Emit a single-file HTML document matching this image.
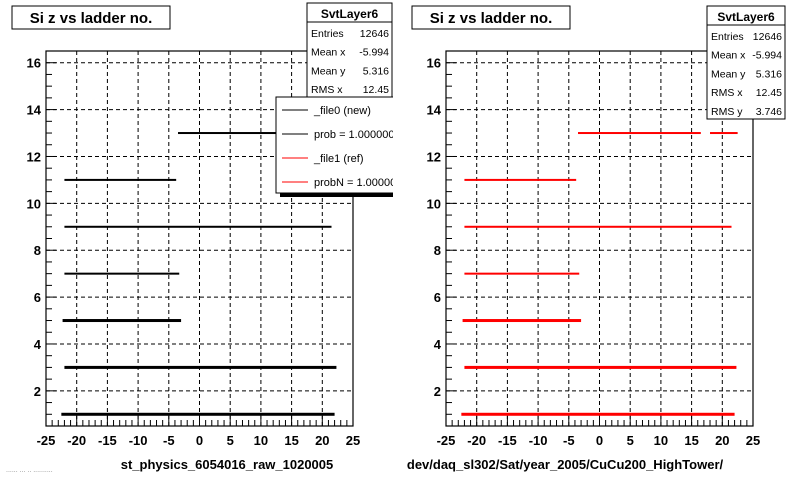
<!DOCTYPE html>
<html><head><meta charset="utf-8"><style>
body{margin:0;background:#fff}
svg{display:block;font-family:"Liberation Sans",Arial,sans-serif}
</style></head><body>
<svg id="c" width="800" height="480" viewBox="0 0 800 480">
<defs><clipPath id="padclip"><rect x="0" y="0" width="393" height="480"/></clipPath></defs>
</svg>
<script>
const bandY=[1,3,5,7,9,11,13,13];
const bandStart=[-22.5,-22,-22.3,-22,-22,-22,-3.5,18];
const bandEnd=[22,22.3,-3,-3.3,21.5,-3.8,16.5,22.5];
const bandThick=[3,3,3,2,2,2,2,2];
const xTicks=[-25,-20,-15,-10,-5,0,5,10,15,20,25];
const yTicks=[2,4,6,8,10,12,14,16];
const statLabels=["Entries","Mean x","Mean y","RMS x","RMS y"];
const statValues=["12646","-5.994","5.316","12.45","3.746"];
const legendLabels=["_file0 (new)","prob = 1.000000","_file1 (ref)","probN = 1.000000"];
const legendColors=["#000","#000","#f00","#f00"];

const NS="http://www.w3.org/2000/svg";
const svg=document.getElementById('c');
function mk(tag,attrs,parent){const e=document.createElementNS(NS,tag);for(const k in attrs)e.setAttribute(k,attrs[k]);(parent||svg).appendChild(e);return e;}

function pad(ox,color,xtitle,xtitleX,showLegend,statsBox){
  const g=mk('g',{});
  
  
  const L=ox+46,R=ox+353,T=51,B=426;
  const sx=v=>L+(v+25)/50*(R-L);
  const sy=v=>B-(v-0.5)/16*(B-T);
  const tb=mk('g',{},g);
  
  
  mk('rect',{x:ox+12,y:6,width:158,height:23,fill:'#fff',stroke:'#000','stroke-width':1},tb);
  const tt=mk('text',{x:ox+91,y:23,'text-anchor':'middle','font-size':15,'font-weight':'bold'},tb);tt.textContent='Si z vs ladder no.';
  for(const v of xTicks.slice(1,-1)){const l=mk('line',{x1:sx(v),x2:sx(v),y1:T,y2:B,stroke:'#000','stroke-dasharray':'4,3'},g);}
  for(const v of yTicks){const l=mk('line',{x1:L,x2:R,y1:sy(v),y2:sy(v),stroke:'#000','stroke-dasharray':'4,3'},g);}
  bandY.forEach((y,i)=>{
    const r=mk('rect',{x:sx(bandStart[i]),y:sy(y)-bandThick[i]/2,width:sx(bandEnd[i])-sx(bandStart[i]),height:bandThick[i],fill:color},g);
    
    
  });
  const f=mk('rect',{x:L,y:T,width:R-L,height:B-T,fill:'none',stroke:'#000','stroke-width':1.2},g);
  
  for(let v=-25;v<=25;v++){const big=v%5===0;mk('line',{x1:sx(v),x2:sx(v),y1:B,y2:B-(big?10:6),stroke:'#000'},g);}
  xTicks.forEach(v=>{const t=mk('text',{x:sx(v),y:B+19,'text-anchor':'middle','font-size':13,'font-weight':'bold'},g);t.textContent=v;});
  for(let v=1;v<=16.5;v+=0.5){const big=v%2===0;mk('line',{x1:L,x2:L+(big?10:6),y1:sy(v),y2:sy(v),stroke:'#000'},g);}
  yTicks.forEach(v=>{const t=mk('text',{x:L-5,y:sy(v)+5,'text-anchor':'end','font-size':13,'font-weight':'bold'},g);t.textContent=v;});
  const xt=mk('text',{x:xtitleX,y:469,'text-anchor':'middle','font-size':13,'font-weight':'bold'},g);xt.textContent=xtitle;
  
  const sb=mk('g',{},g);
  const bx=statsBox[0],bw=statsBox[1],by=statsBox[2];
  mk('rect',{x:bx,y:by,width:bw,height:113,fill:'#fff',stroke:'#000'},sb);
  mk('line',{x1:bx,x2:bx+bw,y1:by+19,y2:by+19,stroke:'#000'},sb);
  const h=mk('text',{x:bx+bw/2,y:by+15,'text-anchor':'middle','font-size':12,'font-weight':'bold'},sb);h.textContent='SvtLayer6';
  statLabels.forEach((s,i)=>{const a=mk('text',{x:bx+4,y:by+34+i*18.7,'font-size':10.5},sb);a.textContent=s;
    const b=mk('text',{x:bx+bw-3,y:by+34+i*18.7,'font-size':10.5,'text-anchor':'end'},sb);b.textContent=statValues[i];});
  if(showLegend){
    const lg=mk('g',{'clip-path':'url(#padclip)'},g);
    mk('rect',{x:280,y:101,width:120,height:96,fill:'#000'},lg);
    mk('rect',{x:276,y:97,width:120,height:96,fill:'#fff',stroke:'#000'},lg);
    legendLabels.forEach((s,i)=>{const y=110+i*24;
      const e=mk('g',{},lg);
      mk('line',{x1:282,x2:308,y1:y,y2:y,stroke:legendColors[i],'stroke-width':1},e);
      const t=mk('text',{x:314,y:y+4,'font-size':11},e);t.textContent=s;});
  }
}
pad(0,'#000','st_physics_6054016_raw_1020005',227,true,[307,85,3]);
pad(400,'#f00','dev/daq_sl302/Sat/year_2005/CuCu200_HighTower/',565,false,[707,78,6]);
const ft=mk('text',{x:6,y:472,'font-size':7,fill:'#888'});ft.textContent='...... ... .. ..........';

</script>
</body></html>
